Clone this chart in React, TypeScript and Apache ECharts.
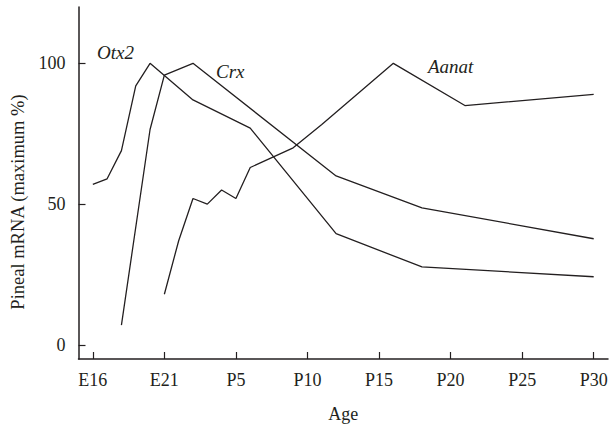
import React, { useEffect, useRef } from "react";
import * as echarts from "echarts";

// Age in days relative to E21 (E16 = -5, E21 = 0, P5 = 5, ...)
const xTicks = [-5, 0, 5, 10, 15, 20, 25, 30];
const yTicks = [0, 50, 100];

const otx2Age = [-5, -4, -3, -2, -1, 2, 6, 12, 18, 30];
const otx2Val = [57, 59, 69, 92, 100, 87, 77, 39.5, 27.7, 24.2];

const crxAge = [-3, -1, 0, 2, 12, 18, 30];
const crxVal = [7, 76.5, 95.8, 100, 60, 48.7, 37.7];

const aanatAge = [0, 1, 2, 3, 4, 5, 6, 9, 11, 16, 21, 30];
const aanatVal = [18, 37, 52, 50, 55, 52, 63, 70, 78.3, 100, 85, 89];

const seriesNames = ["Otx2", "Crx", "Aanat"];

const FONT = "'Liberation Serif', 'DejaVu Serif', serif";
const INK = "#231f20";

function ageLabel(v: number): string {
  return v <= 0 ? "E" + (21 + v) : "P" + v;
}

function zip(a: number[], b: number[]): number[][] {
  return a.map((x, i) => [x, b[i]]);
}

export default function App() {
  const ref = useRef<HTMLDivElement>(null);
  useEffect(() => {
    if (!ref.current) return;
    const chart = echarts.init(ref.current, null, { renderer: "svg" });
    const lineStyle = { color: INK, width: 1.3 };
    const mk = (name: string, d: number[][]) => ({
      name,
      type: "line",
      data: d,
      showSymbol: false,
      symbol: "none",
      lineStyle,
      silent: true,
    });
    const italic = (text: string, x: number, y: number) => ({
      type: "text",
      x,
      y,
      style: {
        text,
        fontFamily: FONT,
        fontStyle: "italic",
        fontSize: 19,
        fill: INK,
        align: "left",
        verticalAlign: "middle",
      },
    });
    chart.setOption({
      animation: false,
      backgroundColor: "#ffffff",
      grid: {
        left: 78.5,
        right: 3,
        top: 7,
        bottom: 67,
        containLabel: false,
        outerBoundsMode: "none",
      },
      xAxis: {
        type: "value",
        min: -6,
        max: 31,
        name: "Age",
        nameLocation: "middle",
        nameGap: 46,
        nameTextStyle: { fontFamily: FONT, fontSize: 18, color: INK },
        axisLine: {
          show: true,
          onZero: false,
          lineStyle: { color: INK, width: 1.5 },
        },
        axisTick: {
          show: true,
          inside: true,
          length: 7,
          customValues: xTicks,
          lineStyle: { color: INK, width: 1.2 },
        },
        axisLabel: {
          customValues: xTicks,
          formatter: (v: number) => ageLabel(v),
          fontFamily: FONT,
          fontSize: 18,
          color: INK,
          margin: 12,
        },
        splitLine: { show: false },
      },
      yAxis: {
        type: "value",
        min: -5,
        max: 120,
        axisLine: {
          show: true,
          onZero: false,
          lineStyle: { color: INK, width: 1.5 },
        },
        axisTick: {
          show: true,
          inside: true,
          length: 7,
          customValues: yTicks,
          lineStyle: { color: INK, width: 1.2 },
        },
        axisLabel: {
          customValues: yTicks,
          fontFamily: FONT,
          fontSize: 18,
          color: INK,
          margin: 13,
        },
        splitLine: { show: false },
      },
      graphic: [
        {
          type: "text",
          x: 18,
          y: 202,
          rotation: Math.PI / 2,
          style: {
            text: "Pineal mRNA (maximum %)",
            fontFamily: FONT,
            fontSize: 18.5,
            fill: INK,
            align: "center",
            verticalAlign: "middle",
          },
        },
        italic(seriesNames[0], 97, 52),
        italic(seriesNames[1], 216, 71),
        italic(seriesNames[2], 428, 66),
      ],
      series: [
        mk(seriesNames[0], zip(otx2Age, otx2Val)),
        mk(seriesNames[1], zip(crxAge, crxVal)),
        mk(seriesNames[2], zip(aanatAge, aanatVal)),
      ],
    });
    return () => chart.dispose();
  }, []);
  return (
    <div
      ref={ref}
      style={{ position: "fixed", left: 0, top: 0, width: 611, height: 426 }}
    />
  );
}
